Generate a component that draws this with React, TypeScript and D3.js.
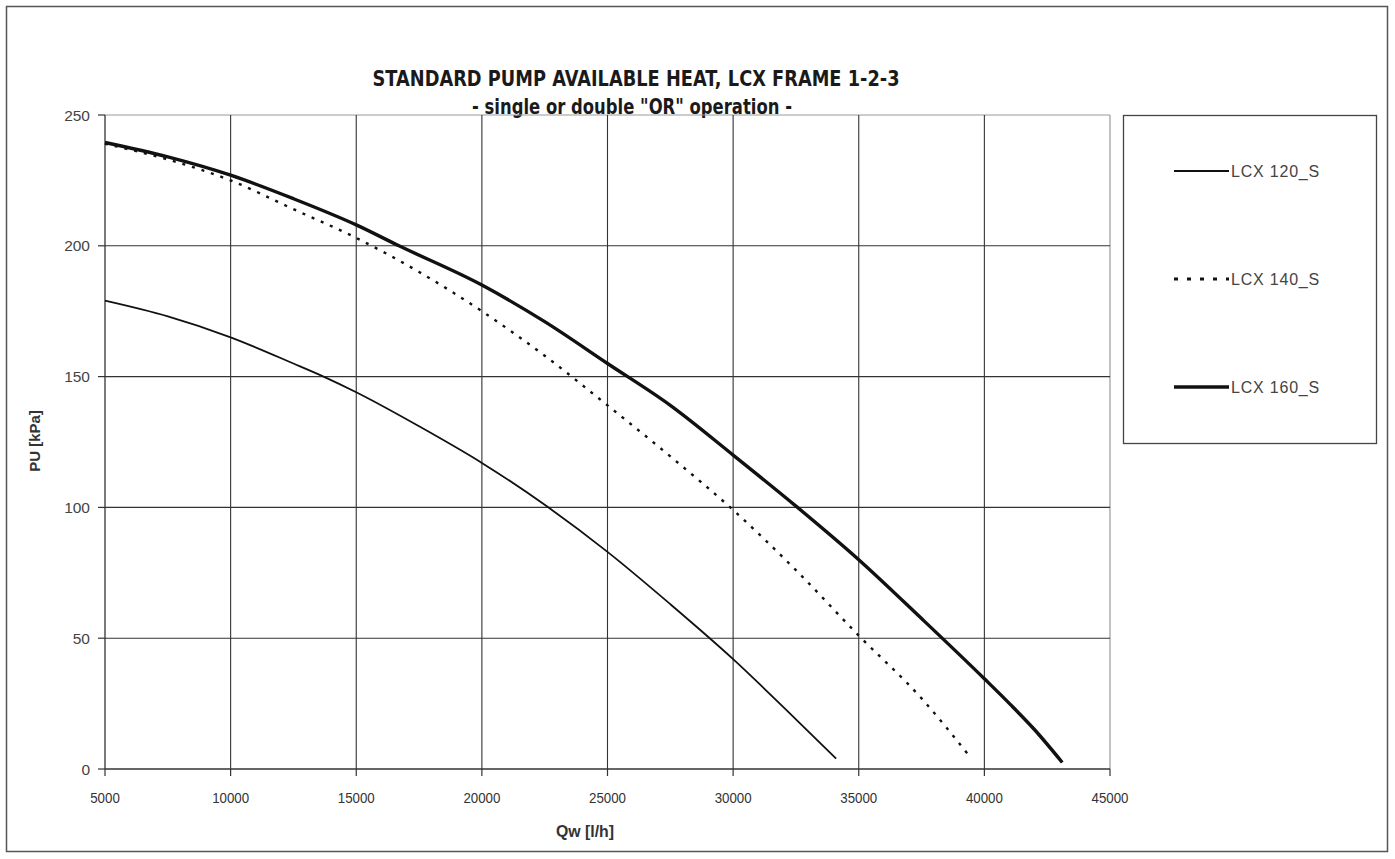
import React from "react";
import * as d3 from "d3";

const xTicks = [5000, 10000, 15000, 20000, 25000, 30000, 35000, 40000, 45000];
const yTicks = [0, 50, 100, 150, 200, 250];

const seriesNames = ["LCX 120_S", "LCX 140_S", "LCX 160_S"];

const q120 = [5000, 7500, 10000, 12500, 13700, 15000, 17500, 20000, 22500, 25000, 27500, 30000, 32500, 34100];
const p120 = [179, 173, 165, 155, 150, 144, 131, 117, 101, 83, 63, 42, 19, 4];

const q140 = [5000, 7500, 10000, 12500, 15000, 17500, 20000, 22500, 25000, 27500, 30000, 32500, 35000, 37500, 39400];
const p140 = [239, 233, 225, 214, 203, 190, 175, 158, 139, 119.5, 99, 76, 51, 27, 5];

const q160 = [5000, 7500, 10000, 12500, 15000, 16700, 20000, 22500, 25000, 27500, 30000, 32500, 35000, 37500, 40000, 41000, 42000, 43100];
const p160 = [239.5, 234, 227, 218, 208, 200, 185, 171, 155, 139, 120, 100.5, 80, 57.5, 34.5, 25, 15, 2.5];

const W = 1395;
const H = 859;
const M = { left: 105, right: 1110, top: 115, bottom: 769 };

export default function App() {
  const x = d3.scaleLinear().domain([5000, 45000]).range([M.left, M.right]);
  const y = d3.scaleLinear().domain([0, 250]).range([M.bottom, M.top]);
  const line = d3
    .line<[number, number]>()
    .x((d) => x(d[0]))
    .y((d) => y(d[1]))
    .curve(d3.curveMonotoneX);

  const s120 = q120.map((q, i) => [q, p120[i]] as [number, number]);
  const s140 = q140.map((q, i) => [q, p140[i]] as [number, number]);
  const s160 = q160.map((q, i) => [q, p160[i]] as [number, number]);

  const styles = [
    { w: 1.8, dash: undefined as string | undefined },
    { w: 2.4, dash: "3,7" },
    { w: 3.4, dash: undefined as string | undefined },
  ];
  const data = [s120, s140, s160];
  const legendY = [171, 279, 387];

  const grid = "#333";
  const tickFont = "Liberation Sans, Arial, sans-serif";
  const cond = "'DejaVu Sans', sans-serif";

  return (
    <svg
      width={W}
      height={H}
      style={{ position: "absolute", left: 0, top: 0, background: "#fff" }}
    >
      <rect x={6.5} y={6.5} width={1381} height={845} fill="#fff" stroke="#555" strokeWidth={1.5} />

      {/* title */}
      <text x={636} y={86} textAnchor="middle" fontFamily={cond} fontWeight="bold" fontSize={22}
        fill="#1a1a1a" textLength={527} lengthAdjust="spacingAndGlyphs">
        STANDARD PUMP AVAILABLE HEAT, LCX FRAME 1-2-3
      </text>
      <text x={632} y={114} textAnchor="middle" fontFamily={cond} fontWeight="bold" fontSize={21}
        fill="#1a1a1a" textLength={320} lengthAdjust="spacingAndGlyphs">
        - single or double "OR" operation -
      </text>

      {/* plot area border top/right */}
      <line x1={M.left} x2={M.right} y1={M.top} y2={M.top} stroke="#999" strokeWidth={1.2} />
      <line x1={M.right} x2={M.right} y1={M.top} y2={M.bottom} stroke="#999" strokeWidth={1.2} />

      {/* grid */}
      {xTicks.slice(1, -1).map((t) => (
        <line key={"gx" + t} x1={x(t)} x2={x(t)} y1={M.top} y2={M.bottom} stroke={grid} strokeWidth={1.1} />
      ))}
      {yTicks.slice(1, -1).map((t) => (
        <line key={"gy" + t} x1={M.left} x2={M.right} y1={y(t)} y2={y(t)} stroke={grid} strokeWidth={1.1} />
      ))}

      {/* axes */}
      <line x1={M.left} x2={M.left} y1={M.top} y2={M.bottom} stroke="#333" strokeWidth={1.3} />
      <line x1={M.left} x2={M.right} y1={M.bottom} y2={M.bottom} stroke="#333" strokeWidth={1.3} />
      {yTicks.map((t) => (
        <g key={"yt" + t}>
          <line x1={M.left - 7} x2={M.left} y1={y(t)} y2={y(t)} stroke="#333" strokeWidth={1.2} />
          <text x={M.left - 15} y={y(t) + 5.5} textAnchor="end" fontFamily={tickFont} fontSize={15.5} fill="#444">
            {t}
          </text>
        </g>
      ))}
      {xTicks.map((t) => (
        <g key={"xt" + t}>
          <line x1={x(t)} x2={x(t)} y1={M.bottom} y2={M.bottom + 7} stroke="#333" strokeWidth={1.2} />
          <text x={x(t)} y={M.bottom + 34} textAnchor="middle" fontFamily={tickFont} fontSize={15.5}
            fill="#333" textLength={String(t).length * 7.4} lengthAdjust="spacingAndGlyphs">
            {t}
          </text>
        </g>
      ))}

      {/* axis titles */}
      <text x={585} y={837} textAnchor="middle" fontFamily={tickFont} fontWeight="bold" fontSize={16}
        fill="#333" textLength={58} lengthAdjust="spacingAndGlyphs">
        Qw [l/h]
      </text>
      <text transform="translate(40,441) rotate(-90)" textAnchor="middle" fontFamily={tickFont} fontWeight="bold"
        fontSize={15} fill="#333">
        PU [kPa]
      </text>

      {/* series */}
      {data.map((d, i) => (
        <path key={"s" + i} d={line(d) || ""} fill="none" stroke="#111" strokeWidth={styles[i].w}
          strokeDasharray={styles[i].dash} strokeLinecap="butt" />
      ))}

      {/* legend */}
      <rect x={1123.5} y={115.5} width={253} height={328} fill="#fff" stroke="#444" strokeWidth={1.3} />
      {seriesNames.map((n, i) => (
        <g key={"lg" + i}>
          <line x1={1174} x2={1229} y1={legendY[i]} y2={legendY[i]} stroke="#111" strokeWidth={styles[i].w + (i === 1 ? 0.4 : 0)}
            strokeDasharray={i === 1 ? "4,9" : undefined} />
          <text x={1231} y={legendY[i] + 6} fontFamily={tickFont} fontSize={16} letterSpacing={0.8} fill="#444">
            {n}
          </text>
        </g>
      ))}
    </svg>
  );
}
